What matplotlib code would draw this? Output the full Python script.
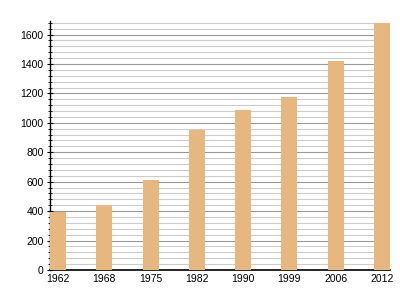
import matplotlib
matplotlib.use("Agg")
import matplotlib.pyplot as plt
from matplotlib.ticker import MultipleLocator

years = ["1962", "1968", "1975", "1982", "1990", "1999", "2006", "2012"]
population = [394, 442, 612, 948, 1084, 1177, 1422, 1680]

plt.rcParams["font.family"] = ["Liberation Sans", "DejaVu Sans"]

fig = plt.figure(figsize=(4, 3), dpi=100)
ax = fig.add_axes([0.125, 0.1, 0.85, 0.83])

x = range(len(years))
ax.bar(x, population, width=0.35, color="#e6b77e", zorder=3)

ax.set_xlim(-0.175, len(years) - 1 + 0.175)
ax.set_ylim(0, 1692)
ax.set_xticks(list(x))
ax.set_xticklabels(years)
ax.yaxis.set_major_locator(MultipleLocator(200))
ax.yaxis.set_minor_locator(MultipleLocator(40))

ax.grid(axis="y", which="major", color="#999999", linewidth=0.8, zorder=0)
ax.grid(axis="y", which="minor", color="#cccccc", linewidth=0.8, zorder=0)

for side in ["top", "right"]:
    ax.spines[side].set_visible(False)
ax.spines["left"].set_linewidth(1.0)
ax.spines["bottom"].set_linewidth(1.2)

ax.tick_params(axis="x", length=0, labelsize=7.5, pad=3)
ax.tick_params(axis="y", which="major", direction="inout", length=5, labelsize=7.5, pad=2)
ax.tick_params(axis="y", which="minor", direction="inout", length=3)

fig.savefig("out.png", dpi=100)
